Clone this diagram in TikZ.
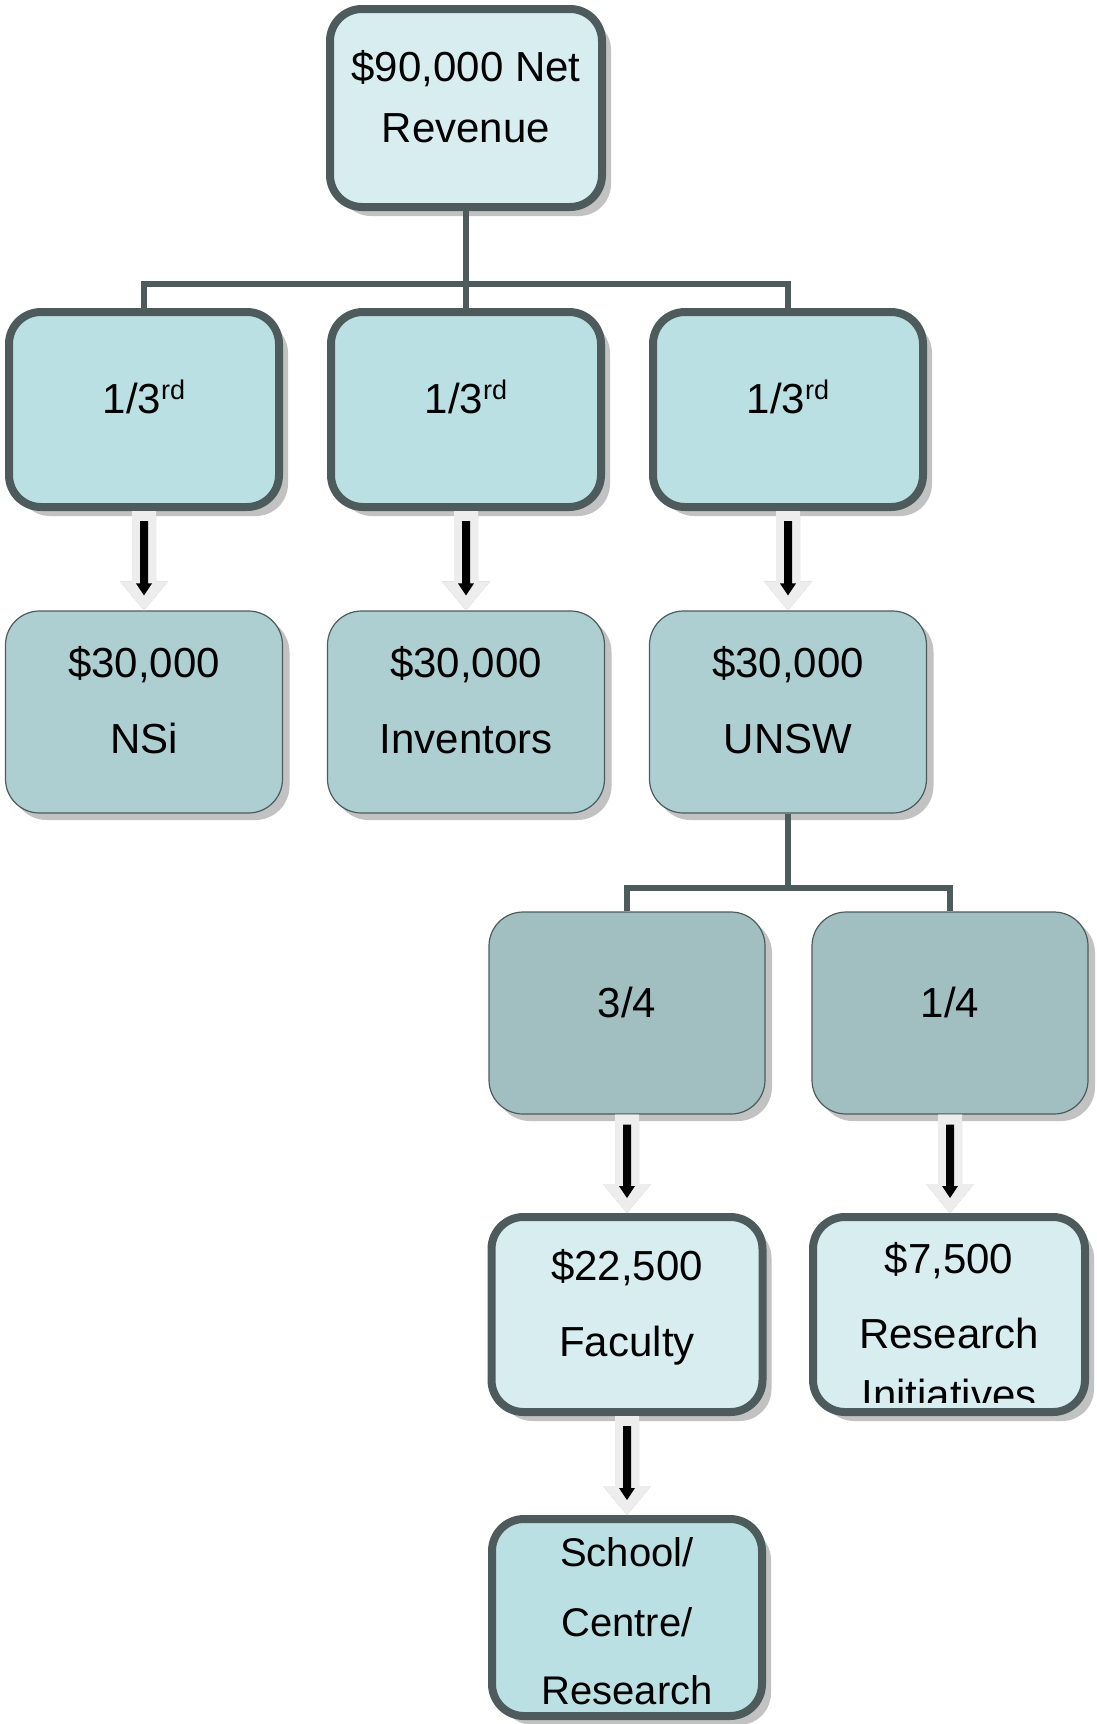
\documentclass[tikz,border=0pt]{standalone}
\usepackage{fontspec}
\setmainfont{Liberation Sans}
\usetikzlibrary{shadows,calc}
\definecolor{bordercol}{HTML}{4D5B5D}
\definecolor{fillA}{HTML}{D8EDF0}
\definecolor{fillB}{HTML}{BAE0E3}
\definecolor{fillC}{HTML}{AECFD2}
\definecolor{fillD}{HTML}{A1BFC1}
\definecolor{arrowfill}{HTML}{EDEDED}
\definecolor{arrowshadow}{HTML}{B8B8B8}
\definecolor{shadowcol}{HTML}{C2C2C2}
\newcommand{\arrowpoly}[3]{\fill[#3] let \p1=(#1.south), \p2=(#2.north) in
  (\x1-12pt,\y1) -- (\x1+12pt,\y1) -- (\x1+12pt,\y2+29pt) -- (\x1+24pt,\y2+29pt) --
  (\x1,\y2) -- (\x1-24pt,\y2+29pt) -- (\x1-12pt,\y2+29pt) -- cycle;}
\newcommand{\innerarrow}[2]{\fill[black] let \p1=(#1.south), \p2=(#2.north) in
  (\x1-4pt,\y1-10pt) -- (\x1+4pt,\y1-10pt) -- (\x1+4pt,\y2+27pt) -- (\x1+8pt,\y2+27pt) --
  (\x1,\y2+15pt) -- (\x1-8pt,\y2+27pt) -- (\x1-4pt,\y2+27pt) -- cycle;}
\newcommand{\flowarrow}[2]{%
  \arrowpoly{#1}{#2}{arrowshadow,xshift=4pt,yshift=-3pt}%
  \arrowpoly{#1}{#2}{arrowfill}%
  \innerarrow{#1}{#2}}
\newcommand{\supr}[1]{\raisebox{0.33em}{\fontsize{27}{27}\selectfont #1}}
\begin{document}
\begin{tikzpicture}[x=1pt,y=1pt,
  thickbox/.style={draw=bordercol, line width=8pt, rounded corners=32pt, inner sep=0pt,
    drop shadow={shadow xshift=9pt, shadow yshift=-9pt, fill=shadowcol, opacity=1}},
  thinbox/.style={draw=bordercol, line width=1.2pt, rounded corners=34pt, inner sep=0pt,
    minimum width=277pt, minimum height=202pt,
    drop shadow={shadow xshift=7pt, shadow yshift=-7pt, fill=shadowcol, opacity=1}},
  bus/.style={draw=bordercol, line width=6.5pt},
  lbl/.style={font=\fontsize{42}{50}\selectfont, inner sep=0pt, anchor=base},
  lbls/.style={font=\fontsize{40}{48}\selectfont, inner sep=0pt, anchor=base}]
\useasboundingbox (0,0) rectangle (1096,-1724);

% buses
\coordinate (busA) at (466,-284);
\coordinate (busB) at (788,-888);

% boxes
\node[thickbox, fill=fillA, minimum width=272pt, minimum height=198pt] (top) at (466,-108) {};
\node[thickbox, fill=fillB, minimum width=270pt, minimum height=195pt] (a1) at (144,-409.5) {};
\node[thickbox, fill=fillB, minimum width=270pt, minimum height=195pt] (a2) at (466,-409.5) {};
\node[thickbox, fill=fillB, minimum width=270pt, minimum height=195pt] (a3) at (788,-409.5) {};
\node[thinbox, fill=fillC] (b1) at (144,-712) {};
\node[thinbox, fill=fillC] (b2) at (466,-712) {};
\node[thinbox, fill=fillC] (b3) at (788,-712) {};
\node[thinbox, fill=fillD, minimum width=276pt] (c1) at (627,-1013) {};
\node[thinbox, fill=fillD, minimum width=276pt] (c2) at (950,-1013) {};
\node[thickbox, fill=fillA, minimum width=271pt, minimum height=195pt] (d1) at (627,-1314.5) {};
\node[thickbox, fill=fillA, minimum width=272pt, minimum height=195pt] (d2) at (949,-1314.5) {};
\node[thickbox, fill=fillB, minimum width=270pt, minimum height=197pt] (e1) at (627,-1617.5) {};

% bus connectors
\draw[bus] (top.south) -- (a2.north);
\draw[bus] (a1.north) -- (a1.north |- busA) -- (a3.north |- busA) -- (a3.north);
\draw[bus] (b3.south) -- (busB);
\draw[bus] (c1.north) -- (c1.north |- busB) -- (c2.north |- busB) -- (c2.north);

% flow arrows
\flowarrow{a1}{b1}
\flowarrow{a2}{b2}
\flowarrow{a3}{b3}
\flowarrow{c1}{d1}
\flowarrow{c2}{d2}
\flowarrow{d1}{e1}

% texts
\node[lbl] (t1) at (466,-81) {\$90,000 Net};
\node[lbl] (t2) at (466,-142) {Revenue};
\node[lbl] (a1t) at (144,-413) {1/3\supr{rd}};
\node[lbl] (a2t) at (466,-413) {1/3\supr{rd}};
\node[lbl] (a3t) at (788,-413) {1/3\supr{rd}};
\node[lbl] (b1t) at (144,-677) {\$30,000};
\node[lbl] (b1u) at (144,-753) {NSi};
\node[lbl] (b2t) at (466,-677) {\$30,000};
\node[lbl] (b2u) at (466,-753) {Inventors};
\node[lbl] (b3t) at (788,-677) {\$30,000};
\node[lbl] (b3u) at (788,-753) {UNSW};
\node[lbl] (c1t) at (627,-1017) {3/4};
\node[lbl] (c2t) at (950,-1017) {1/4};
\node[lbl] (d1t) at (627,-1280) {\$22,500};
\node[lbl] (d1u) at (627,-1356) {Faculty};
\node[lbl] (d2t) at (949,-1273) {\$7,500};
\node[lbl] (d2u) at (949,-1348) {Research};
\begin{scope}
\clip (809,-1213) rectangle (1089,-1402);
\node[lbl] (d2v) at (949,-1409) {Initiatives};
\end{scope}
\node[lbls] (e1t) at (627,-1566) {School/};
\node[lbls] (e1u) at (627,-1636) {Centre/};
\node[lbls] (e1v) at (627,-1704) {Research};
\end{tikzpicture}
\end{document}
